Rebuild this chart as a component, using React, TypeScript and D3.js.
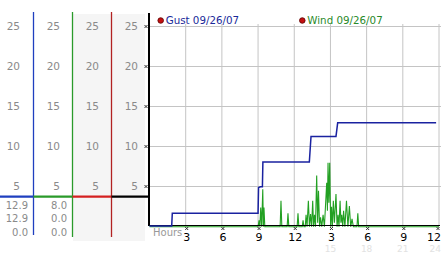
import React from "react";
import * as d3 from "d3";

// ---- data ----
const yTicks = [5, 10, 15, 20, 25];
const xTickHours = [3, 6, 9, 12, 15, 18, 21, 24];
const xTickLabels = ["3", "6", "9", "12", "3", "6", "9", "12"];
const faintHours = [15, 18, 21, 24];
const faintLabels = ["15", "18", "21", "24"];

const gustSeries: [number, number][] = [
  [0, 0], [1.84, 0], [1.89, 1.6], [9.0, 1.6], [9.04, 4.8], [9.2, 4.9],
  [9.36, 4.9], [9.4, 8.0], [13.25, 8.0], [13.39, 11.2], [15.46, 11.2],
  [15.6, 12.9], [23.76, 12.9],
];

const windSeries: [number, number][] = [
  [0, 0], [9.0, 0], [9.08, 0.8], [9.15, 0], [9.22, 2.4], [9.3, 0], [9.39, 4.7],
  [9.44, 0], [9.49, 2.4], [9.56, 0],
  [10.83, 0], [10.9, 3.25], [10.97, 0],
  [11.41, 0], [11.48, 1.7], [11.55, 0],
  [12.24, 0], [12.31, 1.7], [12.38, 0],
  [12.66, 0], [12.73, 0.8], [12.8, 0],
  [12.91, 0], [12.98, 1.5], [13.06, 0], [13.17, 3.25], [13.26, 0], [13.35, 1.6],
  [13.44, 0], [13.53, 3.25], [13.6, 0], [13.68, 1.5], [13.76, 0], [13.86, 6.4],
  [13.94, 0.5], [14.01, 4.5], [14.1, 0], [14.18, 1.2], [14.28, 0], [14.39, 1.5],
  [14.5, 0], [14.69, 5.5], [14.75, 2], [14.8, 8.0], [14.87, 3], [14.94, 8.0],
  [15.02, 0], [15.09, 2.5], [15.16, 0], [15.24, 3.25], [15.33, 0.5], [15.46, 4.1],
  [15.55, 0], [15.63, 1.5], [15.71, 0], [15.8, 3.25], [15.87, 0.5], [15.94, 1.5],
  [16.02, 0], [16.09, 2.0], [16.2, 0], [16.33, 3.25], [16.45, 0], [16.57, 2.6],
  [16.68, 0], [16.79, 1.0], [16.9, 0],
  [17.2, 0], [17.27, 1.7], [17.34, 0], [24, 0],
];

const gustStats = ["12.9", "12.9", "0.0"];
const windStats = ["8.0", "0.0", "0.0"];
const markerValue = 3.66;
const legendItems = [
  { label: "Gust 09/26/07", color: "#1a2a9a" },
  { label: "Wind 09/26/07", color: "#2a8a2a" },
];

const FONT = "'DejaVu Sans', Verdana, sans-serif";

export default function App() {
  const x = d3.scaleLinear().domain([0, 24]).range([149.5, 439]);
  const y = d3.scaleLinear().domain([0, 25]).range([226, 26]);

  const line = d3
    .line<[number, number]>()
    .x((d) => x(d[0]))
    .y((d) => y(d[1]));

  const colLines = [
    { x: 33.5, color: "#1f3fbf", y2: 235 },
    { x: 72.5, color: "#2a9a2a", y2: 237 },
    { x: 111.5, color: "#b22222", y2: 237 },
  ];
  const labelRight = [20, 60, 99, 138];
  const segColors = ["#1f3fbf", "#2a9a2a", "#d42020", "#000"];
  const segEdges = [0, 33.5, 72.5, 111.5, 149];
  const statRows = [205, 218.5, 232];

  const crossPath = (cx: number, cy: number) =>
    `M${cx - 1.5},${cy - 1.5}L${cx + 1.5},${cy + 1.5}M${cx + 1.5},${cy - 1.5}L${cx - 1.5},${cy + 1.5}`;

  const lastIdx = xTickHours.length - 1;

  return (
    <svg
      width={442}
      height={253}
      style={{ position: "absolute", left: 0, top: 0, background: "#fff" }}
      fontFamily={FONT}
    >
      {/* grey columns */}
      <rect x={73} y={14} width={72} height={227} fill="#f5f5f5" />

      {/* left column lines */}
      {colLines.map((c, i) => (
        <line key={i} x1={c.x} x2={c.x} y1={12} y2={c.y2} stroke={c.color} strokeWidth={1.3} />
      ))}

      {/* left column y labels */}
      {labelRight.map((rx, ci) =>
        yTicks.map((t) => (
          <text
            key={`${ci}-${t}`}
            x={rx}
            y={y(t)}
            dy="0.35em"
            textAnchor="end"
            fontSize={10.5}
            fill="#8a8a8a"
          >
            {t}
          </text>
        ))
      )}

      {/* marker line segments */}
      {segColors.map((c, i) => (
        <line
          key={i}
          x1={segEdges[i]}
          x2={segEdges[i + 1]}
          y1={y(markerValue)}
          y2={y(markerValue)}
          stroke={c}
          strokeWidth={2.2}
        />
      ))}

      {/* stats */}
      {gustStats.map((s, i) => (
        <text key={`g${i}`} x={28} y={statRows[i]} dy="0.35em" textAnchor="end" fontSize={10} fill="#8a8a8a">
          {s}
        </text>
      ))}
      {windStats.map((s, i) => (
        <text key={`w${i}`} x={67} y={statRows[i]} dy="0.35em" textAnchor="end" fontSize={10} fill="#8a8a8a">
          {s}
        </text>
      ))}

      {/* grid */}
      {yTicks.map((t) => (
        <line key={`h${t}`} x1={149} x2={441} y1={y(t) + 0.5} y2={y(t) + 0.5} stroke="#c4c4c4" strokeWidth={1} />
      ))}
      {xTickHours.map((h) => (
        <line key={`v${h}`} x1={x(h)} x2={x(h)} y1={y(25) - 2} y2={y(0)} stroke="#c4c4c4" strokeWidth={1} />
      ))}

      {/* y-axis */}
      <line x1={149} x2={149} y1={13} y2={226} stroke="#000" strokeWidth={2} />
      {yTicks.map((t) => (
        <path key={`yc${t}`} d={crossPath(146, y(t) + 0.5)} stroke="#333" strokeWidth={1} />
      ))}

      {/* series */}
      <path d={line(windSeries) ?? ""} fill="none" stroke="#22a022" strokeWidth={1.1} transform="translate(0,0.8)" />
      <line x1={149} x2={440} y1={225.5} y2={225.5} stroke="#000" strokeWidth={1.2} />
      <path d={line(gustSeries) ?? ""} fill="none" stroke="#1a22a0" strokeWidth={1.5} />

      {/* faint secondary hour labels */}
      {faintHours.map((h, i) => (
        <text
          key={`f${h}`}
          x={i === faintHours.length - 1 ? 441 : x(h)}
          y={248.5}
          dy="0.35em"
          textAnchor={i === faintHours.length - 1 ? "end" : "middle"}
          fontSize={9}
          fill="#e2e2e2"
        >
          {faintLabels[i]}
        </text>
      ))}

      {/* x-axis labels */}
      <text x={153} y={232} dy="0.35em" fontSize={10} fill="#999">
        Hours
      </text>
      {xTickHours.map((h, i) => (
        <g key={`xl${h}`}>
          <path d={crossPath(i === lastIdx ? x(h) - 1 : x(h) + 1, 228.5)} stroke="#333" strokeWidth={1} />
          <text
            x={i === lastIdx ? 441 : x(h) + 1}
            y={237}
            dy="0.35em"
            textAnchor={i === lastIdx ? "end" : "middle"}
            fontSize={11}
            fill="#000"
          >
            {xTickLabels[i]}
          </text>
        </g>
      ))}

      {/* legend */}
      {legendItems.map((it, i) => {
        const lx = i === 0 ? 160.7 : 302.3;
        return (
          <g key={it.label}>
            <circle cx={lx} cy={20.5} r={2.8} fill="#c41010" stroke="#5a0000" strokeWidth={0.8} />
            <text x={lx + 5} y={20.5} dy="0.35em" fontSize={10.3} fill={it.color}>
              {it.label}
            </text>
          </g>
        );
      })}
    </svg>
  );
}
